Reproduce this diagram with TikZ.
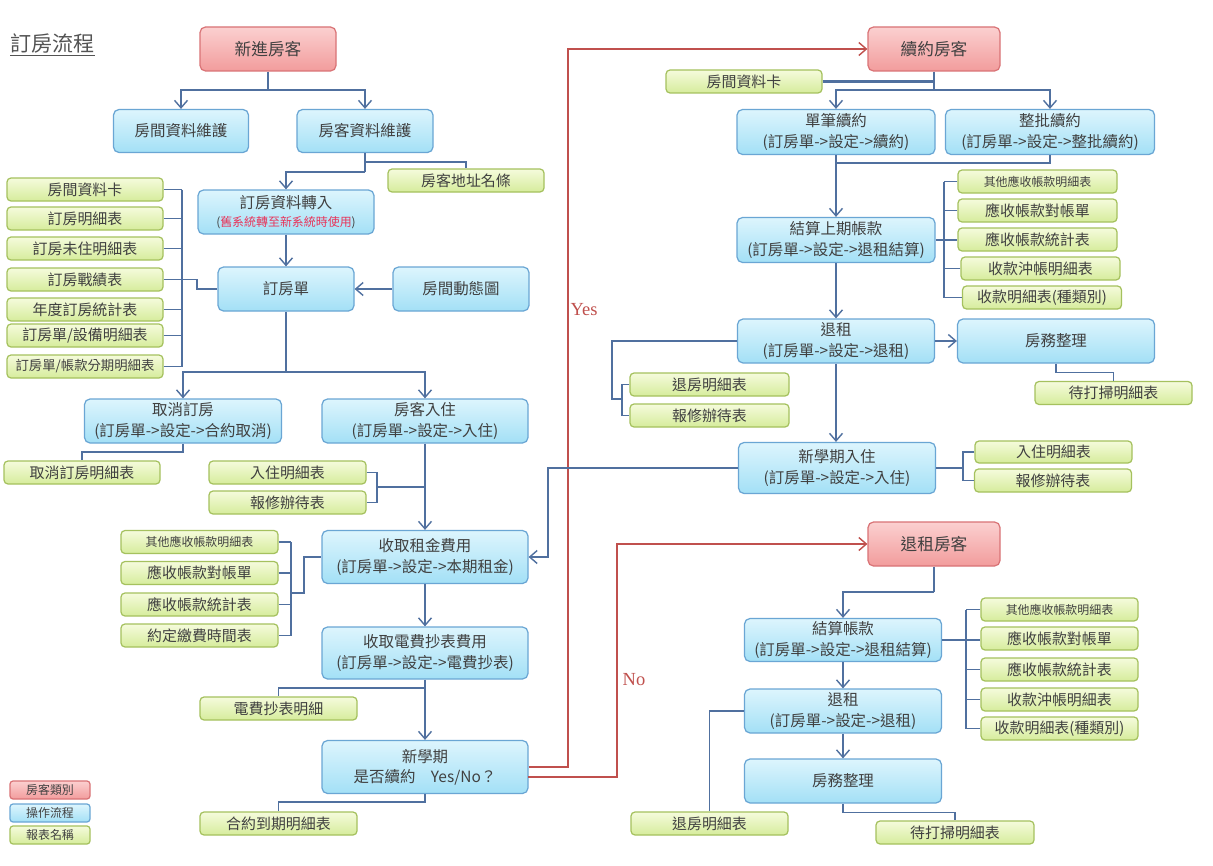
\documentclass[tikz,border=0pt]{standalone}
\usepackage{fontspec}
\setmainfont{Noto Sans CJK TC}
\newfontfamily\latinserif{Liberation Serif}
\usetikzlibrary{arrows.meta,calc}
\definecolor{lnc}{HTML}{50709F}
\definecolor{redln}{HTML}{C0504D}
\definecolor{txt}{HTML}{404040}
\definecolor{bluet}{HTML}{DDF5FD}
\definecolor{blueb}{HTML}{A3E0F6}
\definecolor{bluedr}{HTML}{6AA6D4}
\definecolor{greent}{HTML}{F5FBDC}
\definecolor{greenb}{HTML}{D6EC9C}
\definecolor{greendr}{HTML}{A5C15E}
\definecolor{redt}{HTML}{FBD0D0}
\definecolor{redb}{HTML}{F29C9C}
\definecolor{reddr}{HTML}{D97376}
\definecolor{pinktxt}{HTML}{E8345A}
\newcommand\fsB{\fontsize{8.8}{11.5}\selectfont}
\newcommand\fsG{\fontsize{8.5}{10}\selectfont}
\newcommand\fsS{\fontsize{6.8}{8}\selectfont}
\newcommand\fsM{\fontsize{7.6}{9}\selectfont}
\newcommand\fsR{\fontsize{9.5}{11}\selectfont}
\tikzset{
  wh/.style 2 args={minimum width=#1*0.02cm, minimum height=#2*0.02cm},
  boxbase/.style={line width=0.7pt, rounded corners=0.11cm, inner sep=0pt, align=center, text=txt},
  bluebox/.style={boxbase, draw=bluedr, top color=bluet, bottom color=blueb, font=\fsB},
  greenbox/.style={boxbase, draw=greendr, top color=greent, bottom color=greenb, font=\fsG, rounded corners=0.08cm},
  redbox/.style={boxbase, draw=reddr, top color=redt, bottom color=redb, font=\fsR},
  ln/.style={draw=lnc, line width=0.8pt},
  arr/.style={ln, -{Straight Barb[length=1.5mm,width=2.6mm]}},
  rln/.style={draw=redln, line width=0.8pt},
  rarr/.style={rln, -{Straight Barb[length=1.5mm,width=2.6mm]}},
  redlabel/.style={text=redln, font=\latinserif\fontsize{10.5}{12}\selectfont, inner sep=0pt},
}
\begin{document}
\begin{tikzpicture}[x=0.02cm,y=-0.02cm]
\fill[white] (0,0) rectangle (1213,865);
\useasboundingbox (0,0) rectangle (1213,865);

% title
\node[anchor=west, text=txt!90, font=\fontsize{12}{14}\selectfont, inner sep=0pt] (title) at (10,45) {\underline{訂房流程}};

% red nodes
\node[redbox, wh={136}{44}] (nA) at (268,49) {新進房客};
\node[redbox, wh={132}{44}] (nR) at (934,49) {續約房客};
\node[redbox, wh={132}{44}] (nT) at (934,544) {退租房客};

% blue left
\node[bluebox, wh={135}{43}] (b1) at (181,131) {房間資料維護};
\node[bluebox, wh={136}{43}] (b2) at (365,131) {房客資料維護};
\node[bluebox, wh={176}{44}] (b3) at (286,212) {訂房資料轉入\\[-1pt]{\fsS(\textcolor{pinktxt}{舊系統轉至新系統時使用})}};
\node[bluebox, wh={136}{44}] (b4) at (286,289) {訂房單};
\node[bluebox, wh={136}{44}] (b5) at (461,289) {房間動態圖};
\node[bluebox, wh={197}{44}] (b6) at (183,421) {取消訂房\\(訂房單->設定->合約取消)};
\node[bluebox, wh={206}{44}] (b7) at (425,421) {房客入住\\(訂房單->設定->入住)};
\node[bluebox, wh={206}{53}] (b8) at (425,557) {收取租金費用\\(訂房單->設定->本期租金)};
\node[bluebox, wh={206}{52}] (b9) at (425,653) {收取電費抄表費用\\(訂房單->設定->電費抄表)};
\node[bluebox, wh={206}{53}] (b10) at (425,767) {新學期\\是否續約\quad{}Yes/No？};

% blue right
\node[bluebox, wh={198}{45}] (c1) at (836,132) {單筆續約\\(訂房單->設定->續約)};
\node[bluebox, wh={209}{45}] (c2) at (1050,132) {整批續約\\(訂房單->設定->整批續約)};
\node[bluebox, wh={198}{45}] (c3) at (836,240) {結算上期帳款\\(訂房單->設定->退租結算)};
\node[bluebox, wh={197}{44}] (c4) at (836,341) {退租\\(訂房單->設定->退租)};
\node[bluebox, wh={197}{44}] (c5) at (1056,341) {房務整理};
\node[bluebox, wh={197}{51}] (c6) at (837,468) {新學期入住\\(訂房單->設定->入住)};
\node[bluebox, wh={197}{43}] (d1) at (843,640) {結算帳款\\(訂房單->設定->退租結算)};
\node[bluebox, wh={197}{44}] (d2) at (843,711) {退租\\(訂房單->設定->退租)};
\node[bluebox, wh={197}{44}] (d3) at (843,781) {房務整理};

% green left
\node[greenbox, wh={156}{23}] (g1) at (85,189.5) {房間資料卡};
\node[greenbox, wh={156}{23}] (g2) at (85,218.5) {訂房明細表};
\node[greenbox, wh={156}{23}] (g3) at (85,248.5) {訂房未住明細表};
\node[greenbox, wh={156}{23}] (g4) at (85,279.5) {訂房戰績表};
\node[greenbox, wh={156}{23}] (g5) at (85,309.5) {年度訂房統計表};
\node[greenbox, wh={156}{23}] (g6) at (85,335.5) {訂房單/設備明細表};
\node[greenbox, wh={156}{23}, font=\fsM] (g7) at (85,366.5) {訂房單/帳款分期明細表};
\node[greenbox, wh={156}{23}] (gAddr) at (466,180.5) {房客地址名條};
\node[greenbox, wh={156}{23}] (gCancel) at (82,472.5) {取消訂房明細表};
\node[greenbox, wh={157}{23}] (gIn1) at (287.5,472.5) {入住明細表};
\node[greenbox, wh={157}{23}] (gIn2) at (287.5,502.5) {報修辦待表};
\node[greenbox, wh={157}{23}, font=\fsS] (gR1) at (199.5,542) {其他應收帳款明細表};
\node[greenbox, wh={157}{23}] (gR2) at (199.5,573) {應收帳款對帳單};
\node[greenbox, wh={157}{23}] (gR3) at (199.5,604.5) {應收帳款統計表};
\node[greenbox, wh={157}{23}] (gR4) at (199.5,635.5) {約定繳費時間表};
\node[greenbox, wh={157}{23}] (gE) at (278.5,708.5) {電費抄表明細};
\node[greenbox, wh={157}{23}] (gC) at (278.5,823.5) {合約到期明細表};

% green right
\node[greenbox, wh={156}{23}] (gRC) at (744,81.5) {房間資料卡};
\node[greenbox, wh={159}{23}, font=\fsS] (gS1) at (1037.5,181.5) {其他應收帳款明細表};
\node[greenbox, wh={159}{23}] (gS2) at (1037.5,210.5) {應收帳款對帳單};
\node[greenbox, wh={159}{23}] (gS3) at (1037.5,239.5) {應收帳款統計表};
\node[greenbox, wh={159}{23}] (gS4) at (1040.5,268.5) {收款沖帳明細表};
\node[greenbox, wh={159}{23}] (gS5) at (1042,297.5) {收款明細表(種類別)};
\node[greenbox, wh={159}{23}] (gQ1) at (709.5,384.5) {退房明細表};
\node[greenbox, wh={159}{23}] (gQ2) at (709.5,415.5) {報修辦待表};
\node[greenbox, wh={157}{23}] (gK) at (1113.5,393) {待打掃明細表};
\node[greenbox, wh={157}{22}] (gN1) at (1053.5,452) {入住明細表};
\node[greenbox, wh={157}{23}] (gN2) at (1053,480.5) {報修辦待表};
\node[greenbox, wh={157}{23}, font=\fsS] (gT1) at (1059.5,609.5) {其他應收帳款明細表};
\node[greenbox, wh={157}{23}] (gT2) at (1059.5,638.5) {應收帳款對帳單};
\node[greenbox, wh={157}{23}] (gT3) at (1059.5,669.5) {應收帳款統計表};
\node[greenbox, wh={157}{23}] (gT4) at (1059.5,699.5) {收款沖帳明細表};
\node[greenbox, wh={157}{23}] (gT5) at (1059.5,728.5) {收款明細表(種類別)};
\node[greenbox, wh={157}{23}] (gL) at (709.5,823.5) {退房明細表};
\node[greenbox, wh={158}{23}] (gM) at (955,832.5) {待打掃明細表};

% legend
\node[redbox, wh={80}{18}, font=\fsS, rounded corners=0.06cm] (lg1) at (50,790) {房客類別};
\node[bluebox, wh={80}{18}, font=\fsS, rounded corners=0.06cm] (lg2) at (50,813) {操作流程};
\node[greenbox, wh={80}{18}, font=\fsS, rounded corners=0.06cm] (lg3) at (50,835) {報表名稱};

% ---- connectors left ----
\coordinate (j1) at (268,90);
\draw[ln] (nA.south) -- (j1);
\draw[arr] (j1) -| (b1.north);
\draw[arr] (j1) -| (b2.north);
\coordinate (j2) at (365,162);
\coordinate (j3) at (365,172);
\draw[ln] (b2.south) -- (j3);
\draw[ln] (j2) -| (gAddr.north);
\draw[arr] (j3) -| (b3.north);
\draw[arr] (b3.south) -- (b4.north);
\draw[arr] (b5.west) -- (b4.east);

\coordinate (bL) at (182,0);
\foreach \g in {g1,g2,g3,g5,g6,g7} \draw[ln] (\g.east) -- (\g.east -| bL);
\draw[ln] (g1.east -| bL) -- (g7.east -| bL);
\coordinate (k1) at (197,0);
\draw[ln] (g4.east) -- (g4.east -| k1) |- (b4.west);

\coordinate (j4) at (286,372);
\draw[ln] (b4.south) -- (j4);
\draw[arr] (j4) -| (b6.north);
\draw[arr] (j4) -| (b7.north);
\coordinate (j5) at (183,452);
\draw[ln] (b6.south) -- (j5) -| (gCancel.north);
\draw[arr] (b7.south) -- (b8.north);
\coordinate (bI) at (377,0);
\draw[ln] (gIn1.east) -- (gIn1.east -| bI) -- (gIn2.east -| bI) -- (gIn2.east);
\coordinate (j6) at (377,487);
\draw[ln] (j6) -- (j6 -| b8.north);

\coordinate (bR) at (291,0);
\foreach \g in {gR1,gR2,gR3,gR4} \draw[ln] (\g.east) -- (\g.east -| bR);
\draw[ln] (gR1.east -| bR) -- (gR4.east -| bR);
\coordinate (j7) at (291,593);
\coordinate (k2) at (304,0);
\draw[ln] (j7) -- (j7 -| k2) |- (b8.west);

\draw[arr] (b8.south) -- (b9.north);
\draw[arr] (b9.south) -- (b10.north);
\coordinate (j8) at (425,688);
\draw[ln] (j8) -| (gE.north);
\coordinate (j9) at (425,802);
\draw[ln] (b10.south) -- (j9) -| (gC.north);

% red yes/no
\coordinate (y1) at (568,767);
\draw[rarr] (b10.east) -- (y1) |- (nR.west);
\coordinate (n0) at (528,777);
\coordinate (n1) at (617,777);
\draw[rarr] (n0) -- (n1) |- (nT.west);
\node[redlabel] (yes) at (584,310) {Yes};
\node[redlabel] (no) at (634,680) {No};

% new term check-in back to rent
\coordinate (m1) at (548,468);
\draw[arr] (c6.west) -- (m1) |- (b8.east);

% ---- connectors right ----
\coordinate (r1) at (934,90);
\draw[ln] (nR.south) -- (r1);
\draw[arr] (r1) -| (c1.north);
\draw[arr] (r1) -| (c2.north);
\draw[ln, line width=2pt] (gRC.east) -- (gRC.east -| nR.south);
\coordinate (r2) at (836,163);
\draw[arr] (c1.south) -- (c3.north);
\draw[ln] (r2) -| (c2.south);

\coordinate (bS) at (944,0);
\foreach \g in {gS1,gS2,gS4,gS5} \draw[ln] (\g.west) -- (\g.west -| bS);
\draw[ln] (gS1.west -| bS) -- (gS5.west -| bS);
\draw[ln] (c3.east) -- (c3.east -| gS3.west);

\draw[arr] (c3.south) -- (c4.north);
\draw[arr] (c4.east) -- (c5.west);
\draw[ln] (c5.south) -- ++(0,9) -| (gK.north);
\coordinate (r3) at (612,399);
\coordinate (bQ) at (622,0);
\draw[ln] (c4.west) -| (r3) -- (r3 -| bQ);
\draw[ln] (gQ1.west) -- (gQ1.west -| bQ) -- (gQ2.west -| bQ) -- (gQ2.west);
\draw[arr] (c4.south) -- (c4.south |- c6.north);
\coordinate (bN) at (963,0);
\draw[ln] (c6.east) -- (c6.east -| bN);
\draw[ln] (gN1.west) -- (gN1.west -| bN) -- (gN2.west -| bN) -- (gN2.west);

\coordinate (t1) at (934,592);
\draw[ln] (nT.south) -- (t1);
\draw[arr] (t1) -| (d1.north);
\coordinate (bT) at (966,0);
\foreach \g in {gT1,gT3,gT4,gT5} \draw[ln] (\g.west) -- (\g.west -| bT);
\draw[ln] (gT1.west -| bT) -- (gT5.west -| bT);
\draw[ln] (d1.east) -- (d1.east -| gT2.west);
\draw[arr] (d1.south) -- (d2.north);
\draw[arr] (d2.south) -- (d3.north);
\draw[ln] (d2.west) -| (gL.north);
\draw[ln] (d3.south) -- ++(0,9) -| (gM.north);
\end{tikzpicture}
\end{document}
